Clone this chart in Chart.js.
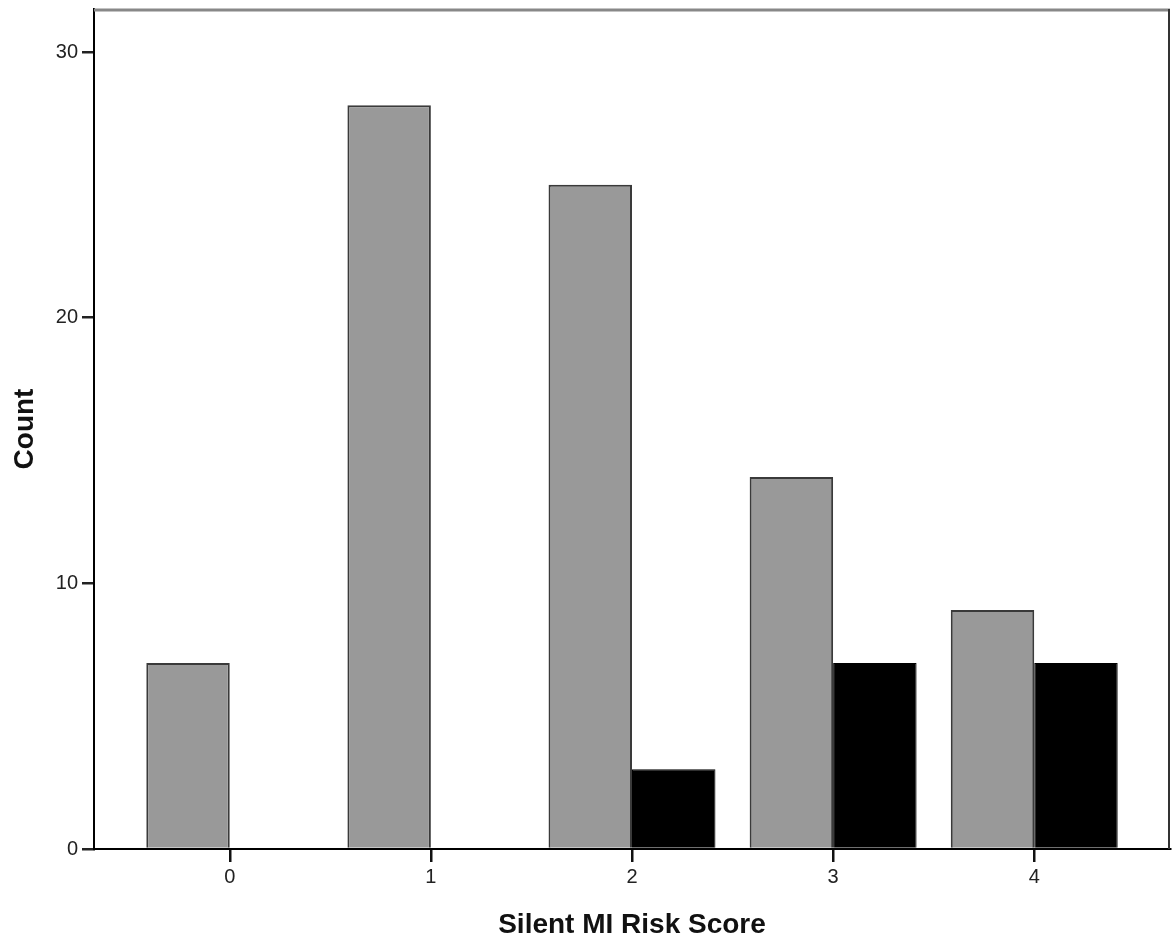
<!doctype html>
<html lang="en">
    <head>
        <meta charset="UTF-8"/>
        <title>Silent MI Risk Score</title>
        <script src="https://cdn.jsdelivr.net/npm/chart.js@4/dist/chart.umd.min.js"></script>
        <style>
         * {
             margin: 0;
             padding: 0;
         }
         body { background: #fff; }
         #wrap { width: 1172px; height: 939px; }
        </style>
    </head>
    <body>
        <div id="wrap"><canvas id="chart1"></canvas></div>
        <script>
         // values
         let scores = ['0', '1', '2', '3', '4']
         let grayCounts = [7, 28, 25, 14, 9]
         let blackCounts = [0, 0, 3, 7, 7]
         let yTicks = [0, 10, 20, 30]

         // top and right edges of the frame
         const framePlugin = {
             id: 'frame',
             afterDraw(chart) {
                 const a = chart.chartArea;
                 const ctx = chart.ctx;
                 ctx.save();
                 ctx.strokeStyle = '#888888';
                 ctx.lineWidth = 3;
                 ctx.beginPath();
                 ctx.moveTo(a.left, a.top + 1);
                 ctx.lineTo(a.right, a.top + 1);
                 ctx.stroke();
                 ctx.strokeStyle = '#333333';
                 ctx.lineWidth = 2;
                 ctx.beginPath();
                 ctx.moveTo(a.right - 1, a.top);
                 ctx.lineTo(a.right - 1, a.bottom);
                 ctx.stroke();
                 ctx.restore();
             }
         };

         let ctx1 = document.getElementById('chart1').getContext('2d');
         let barChart = new Chart(ctx1, {
             type: 'bar',
             data: {
                 datasets: [{
                     label: 'group 1',
                     data: scores.map((s, i) => ({ x: Number(s), y: grayCounts[i] })),
                     backgroundColor: '#999999',
                     borderColor: '#3a3a3a',
                     borderWidth: 2
                 }, {
                     label: 'group 2',
                     data: scores.map((s, i) => ({ x: Number(s), y: blackCounts[i] })),
                     backgroundColor: '#000000',
                     borderColor: '#000000',
                     borderWidth: 1
                 }]
             },
             options: {
                 responsive: true,
                 maintainAspectRatio: false,
                 animation: false,
                 categoryPercentage: 0.83,
                 barPercentage: 1,
                 layout: { padding: { top: 9, right: 2, left: 0, bottom: 0 } },
                 plugins: {
                     legend: { display: false },
                     tooltip: { enabled: false }
                 },
                 scales: {
                     x: {
                         type: 'linear',
                         offset: false,
                         min: -0.675,
                         max: 4.675,
                         afterBuildTicks: (s) => { s.ticks = scores.map(v => ({ value: Number(v) })); },
                         afterFit: (s) => { s.height = 90; s.paddingLeft = 0; s.paddingRight = 0; },
                         ticks: {
                             callback: (v) => String(v),
                             color: '#222',
                             padding: 3,
                             maxRotation: 0,
                             font: { family: 'Liberation Sans', size: 20 }
                         },
                         grid: { display: true, offset: false, drawOnChartArea: false, drawTicks: true, tickLength: 13, color: '#111', lineWidth: 2.5 },
                         border: { display: true, color: '#000', width: 2 },
                         title: {
                             display: true,
                             text: 'Silent MI Risk Score',
                             color: '#111',
                             padding: { top: 4, bottom: 0 },
                             font: { family: 'Liberation Sans', size: 28, weight: 'bold', lineHeight: 1 }
                         }
                     },
                     y: {
                         min: 0,
                         max: 31.62,
                         afterBuildTicks: (s) => { s.ticks = yTicks.map(v => ({ value: v })); },
                         afterFit: (s) => { s.width = 94; s.paddingTop = 0; s.paddingBottom = 0; },
                         ticks: {
                             color: '#222',
                             padding: 4,
                             font: { family: 'Liberation Sans', size: 20 }
                         },
                         grid: { display: true, drawOnChartArea: false, drawTicks: true, tickLength: 12, color: '#222', lineWidth: 2.5 },
                         border: { display: true, color: '#000', width: 2 },
                         title: {
                             display: true,
                             text: 'Count',
                             color: '#111',
                             padding: { top: 11, bottom: 0 },
                             font: { family: 'Liberation Sans', size: 28, weight: 'bold', lineHeight: 1 }
                         }
                     }
                 }
             },
             plugins: [framePlugin]
         });
        </script>
    </body>
</html>
